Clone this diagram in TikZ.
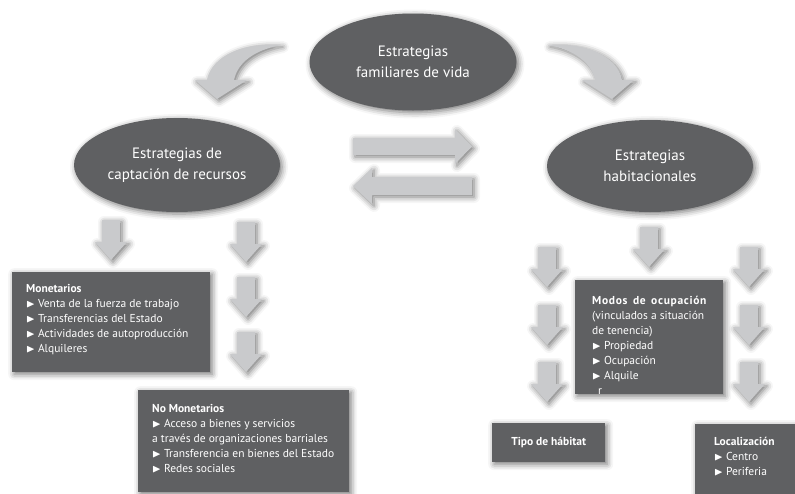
\documentclass[tikz,border=0pt]{standalone}
\usepackage{fontspec}
\setmainfont{PT Sans}
\usepackage{amssymb}
\usetikzlibrary{shapes.geometric}
\usetikzlibrary{shadows.blur}
\usepackage{xcolor}

\definecolor{grisoscuro}{RGB}{95,96,98}
\definecolor{grisclaro}{RGB}{201,202,204}
\newcommand{\bul}{$\blacktriangleright$\hspace{0.25em}}

\begin{document}
\begin{tikzpicture}[x=1pt, y=-1pt]
        % ================= estilos =================
        \tikzset{
            % sombra difusa comun
            sombra/.style={blur shadow={shadow xshift=2pt, shadow yshift=-2pt, shadow blur radius=6pt, shadow opacity=55}},
            % ovalos oscuros
            oval/.style={ellipse, fill=grisoscuro, sombra, text=white, align=center, inner sep=0pt, font=\fontsize{15}{21}\selectfont},
            % cajas oscuras
            caja/.style={rectangle, fill=grisoscuro, sombra, text=white, inner sep=0pt, font=\fontsize{11.5}{15}\selectfont},
            % texto de las cajas
            texto/.style={text=white, align=left, inner sep=0pt, anchor=north west, font=\fontsize{11.5}{15}\selectfont},
            % flechas claras
            flecha/.style={fill=grisclaro, sombra},
            % flecha hacia abajo
            pics/bajada/.style={code={
                \fill[flecha] (-9,0) -- (9,0) -- (9,22) -- (16,22) -- (0,40) -- (-16,22) -- (-9,22) -- cycle;
            }}
        }

        \useasboundingbox (0,0) rectangle (795,493);

        % ================= ovalos =================
        \node[oval, minimum width=207pt, minimum height=97pt] (familia) at (413,62) {Estrategias\\familiares de vida};
        \node[oval, minimum width=206pt, minimum height=94pt] (recursos) at (177,165) {Estrategias de\\captación de recursos};
        \node[oval, minimum width=206pt, minimum height=92pt] (habitat) at (650,166) {Estrategias\\habitacionales};

        % ================= flechas curvas =================
        \fill[flecha] (281,45) .. controls (245,42) and (212,55) .. (207,80) -- (195,80) -- (217,99)
            -- (247,80) -- (234,80) .. controls (238,62) and (255,50) .. (281,45) -- cycle;
        \fill[flecha] (548,45) .. controls (584,42) and (617,55) .. (622,80) -- (634,80) -- (612,99)
            -- (582,80) -- (595,80) .. controls (591,62) and (574,50) .. (548,45) -- cycle;

        % ================= flechas horizontales =================
        \fill[flecha] (353,138) -- (455,138) -- (455,129) -- (472,146.5) -- (455,164) -- (455,155) -- (353,155) -- cycle;
        \fill[flecha] (472,177) -- (372,177) -- (372,168) -- (353,186) -- (372,204) -- (372,195) -- (472,195) -- cycle;

        % ================= flechas hacia abajo =================
        \pic at (111,220) {bajada};
        \foreach \y in {222,277,332} {
            \pic at (246,\y) {bajada};
        }
        \pic at (649,227) {bajada};
        \foreach \y in {247,305,362} {
            \pic at (547,\y) {bajada};
            \pic at (749,\y) {bajada};
        }

        % ================= cajas izquierda =================
        \node[caja, minimum width=198pt, minimum height=100pt, anchor=north west] (monet_box) at (12,272) {};
        \node[texto] (monet_txt) at (26,284) {\textbf{Monetarios}\\
            \bul Venta de la fuerza de trabajo\\
            \bul Transferencias del Estado\\
            \bul Actividades de autoproducción\\
            \bul Alquileres};

        \node[caja, minimum width=211pt, minimum height=102pt, anchor=north west] (nomonet_box) at (138,390) {};
        \node[texto] (nomonet_txt) at (152,404) {\textbf{No Monetarios}\\
            \bul Acceso a bienes y servicios\\
            a través de organizaciones barriales\\
            \bul Transferencia en bienes del Estado\\
            \bul Redes sociales};

        % ================= cajas derecha =================
        \node[caja, minimum width=148pt, minimum height=114pt, anchor=north west] (modos_box) at (575,280) {};
        \node[texto] (modos_txt) at (592,296) {\makebox[115pt][s]{\textbf{\addfontfeature{LetterSpace=6}Modos de ocupación}}\\
            (vinculados a situación\\
            de tenencia)\\
            \bul Propiedad\\
            \bul Ocupación\\
            \bul Alquile\\
            \hspace{6pt}r};

        \node[caja, minimum width=113pt, minimum height=39pt, anchor=north west] (tipo_box) at (492,423) {\textbf{Tipo de hábitat}};

        \node[caja, minimum width=100pt, minimum height=70pt, anchor=north west] (local_box) at (695,424) {};
        \node[texto] (local_txt) at (714,437) {\textbf{Localización}\\
            \bul Centro\\
            \bul Periferia};

    \end{tikzpicture}
\end{document}
